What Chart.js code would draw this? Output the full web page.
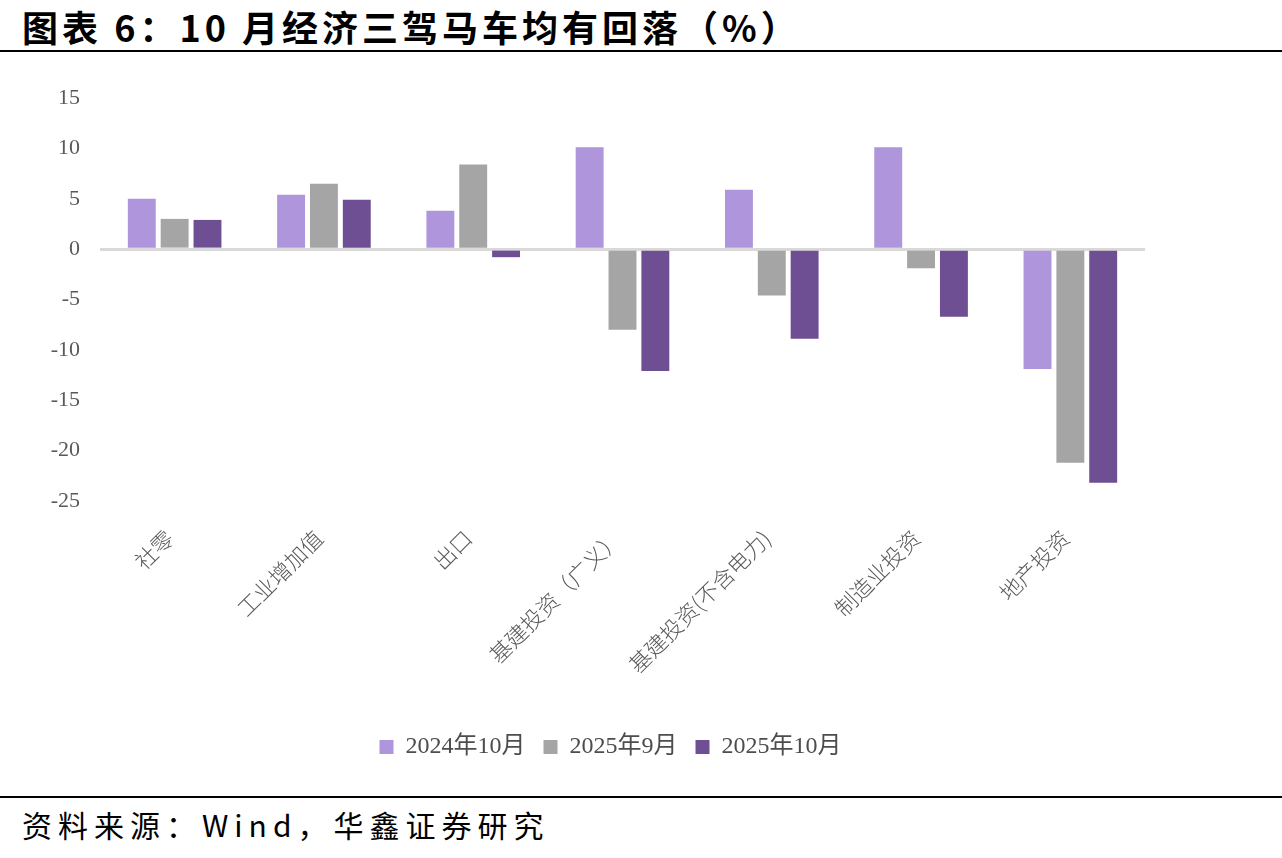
<!DOCTYPE html>
<html>
<head>
<meta charset="utf-8">
<script src="https://cdn.jsdelivr.net/npm/chart.js@4.4.1/dist/chart.umd.min.js"></script>
<style>
  body { margin: 0; background: #fff; width: 1282px; height: 858px; position: relative; overflow: hidden; }
  .title { position: absolute; left: 22px; top: 0px; font-family: "Noto Sans CJK SC"; font-weight: 700; font-size: 36px; letter-spacing: 4px; color: #000; white-space: nowrap; }
  .rule { position: absolute; left: 0; width: 1282px; height: 2px; background: #000; }
  .source { position: absolute; left: 22px; top: 802px; font-family: "Noto Sans CJK SC"; font-size: 30px; letter-spacing: 6px; color: #000; white-space: nowrap; }
  .wrap { position: absolute; left: 0; top: 55px; width: 1282px; height: 714px; }
</style>
</head>
<body>
<div class="title">图表 6：10 月经济三驾马车均有回落（%）</div>
<div class="rule" style="top:50px"></div>
<div class="wrap"><canvas id="chart"></canvas></div>
<div class="rule" style="top:796px"></div>
<div class="source">资料来源：Wind，华鑫证券研究</div>
<script>
const categories = ['社零', '工业增加值', '出口', '基建投资（广义）', '基建投资(不含电力)', '制造业投资', '地产投资'];
const seriesNames = ['2024年10月', '2025年9月', '2025年10月'];
const oct2024 = [5.0, 5.4, 3.8, 10.1, 5.9, 10.1, -11.9];
const sep2025 = [3.0, 6.5, 8.4, -8.0, -4.6, -1.9, -21.2];
const oct2025 = [2.9, 4.9, -0.8, -12.1, -8.9, -6.7, -23.2];
const colors = ['#AF95DB', '#A5A5A5', '#6F4F93'];

const labelFont = '"Liberation Serif", "Noto Sans CJK SC", serif';

// the legend in the original sits centred on the page, not on the plot
const shiftLegend = {
  id: 'shiftLegend',
  afterLayout(chart) {
    const lg = chart.legend;
    if (!lg) return;
    lg.left += 38;
    lg.right += 38;
  }
};

new Chart(document.getElementById('chart'), {
  type: 'bar',
  data: {
    labels: categories,
    datasets: [oct2024, sep2025, oct2025].map((d, i) => ({
      label: seriesNames[i],
      data: d,
      backgroundColor: colors[i],
      categoryPercentage: 0.66,
      barPercentage: 0.85
    }))
  },
  plugins: [shiftLegend],
  options: {
    responsive: true,
    maintainAspectRatio: false,
    animation: false,
    layout: { padding: { top: 43, right: 137, bottom: 0, left: 0 } },
    plugins: {
      tooltip: { enabled: false },
      legend: {
        position: 'bottom',
        labels: {
          boxWidth: 14, boxHeight: 14, padding: 18,
          color: '#4D4D4D',
          font: { family: labelFont, size: 24 }
        }
      }
    },
    scales: {
      x: {
        grid: { display: false, drawTicks: false },
        border: { display: false },
        afterFit: s => { s.height = 216; },
        ticks: {
          minRotation: 45, maxRotation: 45, padding: 24, labelOffset: -5,
          color: '#595959',
          font: { family: '"Noto Sans CJK SC"', size: 22, weight: 300 }
        }
      },
      y: {
        min: -25, max: 15,
        afterFit: s => { s.width = 100; },
        grid: {
          drawTicks: false,
          color: ctx => ctx.tick && ctx.tick.value === 0 ? '#D9D9D9' : 'rgba(0,0,0,0)',
          lineWidth: ctx => ctx.tick && ctx.tick.value === 0 ? 3 : 0
        },
        border: { display: false },
        ticks: {
          stepSize: 5, padding: 20,
          color: '#595959',
          font: { family: labelFont, size: 22 }
        }
      }
    }
  }
});
</script>
</body>
</html>
